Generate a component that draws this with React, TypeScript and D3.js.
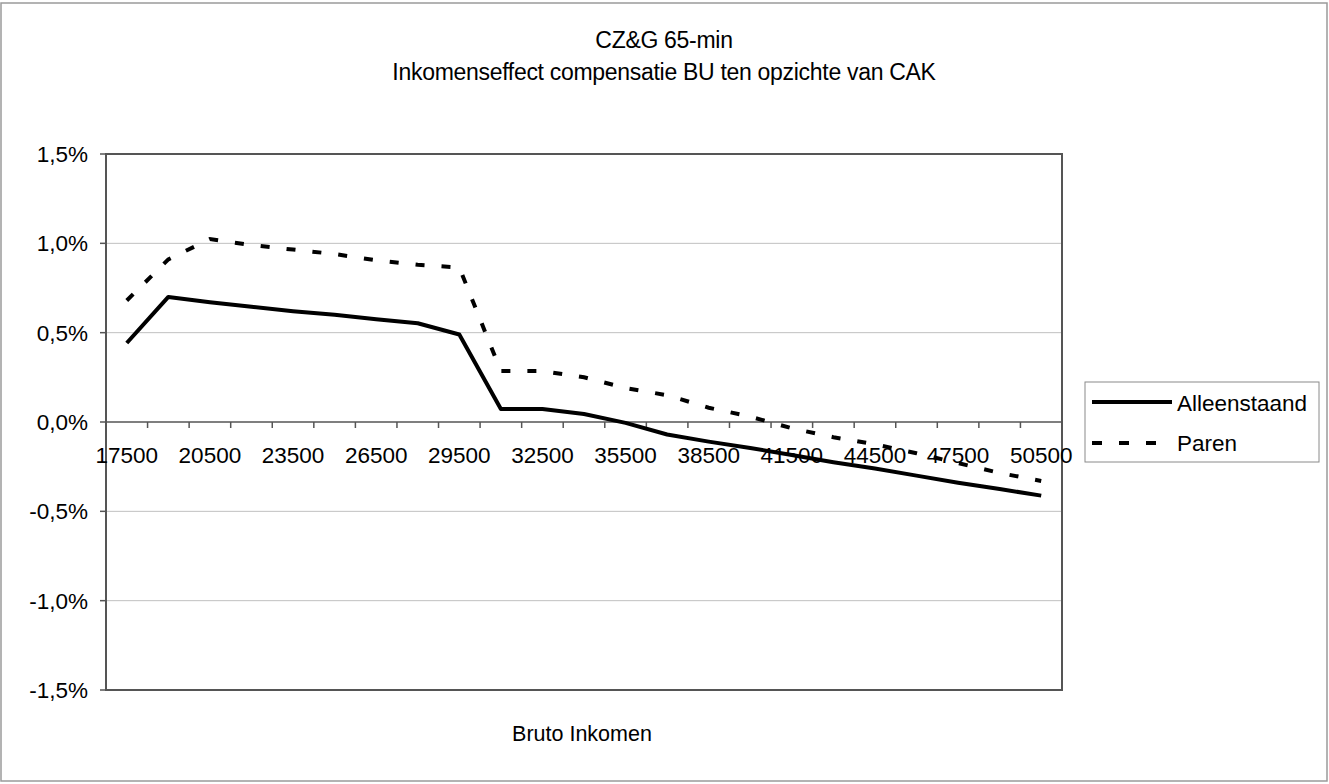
import React from "react";
import * as d3 from "d3";

const categories = ["17500","19000","20500","22000","23500","25000","26500","28000","29500","31000","32500","34000","35500","37000","38500","40000","41500","43000","44500","46000","47500","49000","50500"];
const alleenstaand = [0.442,0.70,0.67,0.645,0.62,0.60,0.575,0.553,0.49,0.073,0.073,0.045,-0.005,-0.07,-0.11,-0.145,-0.185,-0.225,-0.26,-0.30,-0.34,-0.375,-0.412];
const paren = [0.68,0.91,1.024,0.99,0.965,0.94,0.905,0.88,0.865,0.285,0.285,0.25,0.19,0.15,0.08,0.03,-0.035,-0.085,-0.125,-0.175,-0.23,-0.285,-0.33];
const yTicks = [-1.5,-1.0,-0.5,0,0.5,1.0,1.5];
const title1 = "CZ&G 65-min";
const title2 = "Inkomenseffect compensatie BU ten opzichte van CAK";
const xTitle = "Bruto Inkomen";
const seriesNames = ["Alleenstaand","Paren"];

const W = 1329, H = 784;
const plot = { left: 106, right: 1062, top: 154, bottom: 690 };
const font = "'Liberation Sans', Arial, sans-serif";

export default function App() {
  const x = d3.scaleBand<string>().domain(categories).range([plot.left, plot.right]).paddingInner(0).paddingOuter(0);
  const y = d3.scaleLinear().domain([-1.5, 1.5]).range([plot.bottom, plot.top]);
  const cx = (c: string) => (x(c) as number) + x.bandwidth() / 2;
  const line = d3.line<number>().x((_, i) => cx(categories[i])).y((d) => y(d));
  const fmt = (v: number) => d3.format(".1f")(v).replace(".", ",").replace("−", "-") + "%";
  const y0 = y(0);
  return (
    <svg width={W} height={H} style={{ position: "absolute", left: 0, top: 0, background: "#fff" }}>
      <rect x={1} y={3} width={W - 3} height={H - 6} fill="#fff" stroke="#9a9a9a" strokeWidth={1.5} />
      <text x={664} y={48} textAnchor="middle" fontFamily={font} fontSize={23} fill="#000" letterSpacing={-0.3}>{title1}</text>
      <text x={664} y={80} textAnchor="middle" fontFamily={font} fontSize={23} fill="#000" letterSpacing={-0.3}>{title2}</text>
      {yTicks.filter((t) => t !== 0 && Math.abs(t) !== 1.5).map((t) => (
        <line key={"g" + t} x1={plot.left} x2={plot.right} y1={y(t)} y2={y(t)} stroke="#c0c0c0" strokeWidth={1} />
      ))}
      <rect x={plot.left} y={plot.top} width={plot.right - plot.left} height={plot.bottom - plot.top} fill="none" stroke="#555" strokeWidth={2} />
      {yTicks.map((t) => (
        <g key={"y" + t}>
          <line x1={plot.left - 6} x2={plot.left} y1={y(t)} y2={y(t)} stroke="#555" strokeWidth={1.5} />
          <text x={88} y={y(t) + 8} textAnchor="end" fontFamily={font} fontSize={22.5} fill="#000">{fmt(t)}</text>
        </g>
      ))}
      <line x1={plot.left} x2={plot.right} y1={y0} y2={y0} stroke="#555" strokeWidth={1.5} />
      {categories.slice(1).map((c) => (
        <line key={"t" + c} x1={x(c) as number} x2={x(c) as number} y1={y0} y2={y0 + 6} stroke="#555" strokeWidth={1.5} />
      ))}
      {categories.map((c, i) => i % 2 === 0 ? (
        <text key={"l" + c} x={cx(c)} y={y0 + 41} textAnchor="middle" fontFamily={font} fontSize={22.5} fill="#000">{c}</text>
      ) : null)}
      <path d={line(alleenstaand) || ""} fill="none" stroke="#000" strokeWidth={4} strokeLinejoin="round" />
      <path d={line(paren) || ""} fill="none" stroke="#000" strokeWidth={4} strokeDasharray="9,17" />
      <text x={(plot.left + plot.right) / 2 - 2} y={741} textAnchor="middle" fontFamily={font} fontSize={21.5} fill="#000">{xTitle}</text>
      <rect x={1085} y={382} width={234} height={80} fill="#fff" stroke="#8a8a8a" strokeWidth={1} />
      <line x1={1092} x2={1172} y1={402} y2={402} stroke="#000" strokeWidth={4} />
      <text x={1177} y={411} fontFamily={font} fontSize={22.5} fill="#000">{seriesNames[0]}</text>
      <line x1={1092} x2={1172} y1={443} y2={443} stroke="#000" strokeWidth={4} strokeDasharray="10,17" />
      <text x={1177} y={451} fontFamily={font} fontSize={22.5} fill="#000">{seriesNames[1]}</text>
    </svg>
  );
}
